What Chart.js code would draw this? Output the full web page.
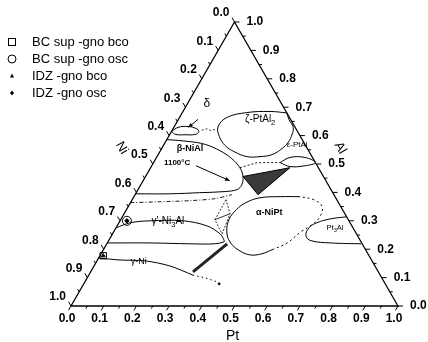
<!DOCTYPE html>
<html><head><meta charset="utf-8">
<script src="https://cdn.jsdelivr.net/npm/chart.js@4"></script>
<style>html,body{margin:0;padding:0;background:#fff}canvas{display:block}</style>
</head><body>
<canvas id="c" width="428" height="342"></canvas>
<script>
// All compositions are [Pt, Al] mole fractions (Ni = 1 - Pt - Al)
const frame = [[0,0],[1,0],[0,1],[0,0]];
const deltaPhase = [[0.000,0.614],[0.013,0.629],[0.042,0.632],[0.070,0.625],[0.084,0.614],[0.077,0.604],[0.047,0.603],[0.019,0.604],[0.000,0.614]];
const deltaTail = [[0.090,0.619],[0.105,0.624],[0.118,0.618],[0.132,0.622]];
const betaPhase = [[0,0.586],[0.074,0.579],[0.126,0.569],[0.182,0.547],[0.232,0.519],[0.273,0.487],[0.298,0.456],[0.309,0.427],[0.303,0.410],[0.270,0.403],[0.194,0.399],[0.105,0.395],[0,0.395]];
const orderLine = [[0,0.364],[0.088,0.367],[0.179,0.371],[0.251,0.378],[0.296,0.392]];
const gammaPrime = [[0,0.275],[0.034,0.293],[0.092,0.300],[0.193,0.300],[0.275,0.282],[0.329,0.254],[0.351,0.233],[0.355,0.226],[0.330,0.219],[0.254,0.219],[0.131,0.222],[0,0.222]];
const gammaNi = [[0,0.169],[0.069,0.162],[0.147,0.159],[0.232,0.141],[0.318,0.109]];
const gammaTail = [[0.318,0.109],[0.361,0.099],[0.404,0.085]];
const looseDots = [[0.414,0.078]];
const tieStrip = [[0.313,0.120],[0.368,0.219]];
const smallTie = [[0.287,0.374],[0.288,0.304],[0.335,0.254],[0.324,0.325],[0.287,0.374]];
const smallTieLine = [[0.288,0.304],[0.324,0.325]];
const threePhase = [[0.298,0.456],[0.426,0.487],[0.376,0.392],[0.298,0.456]];
const threeTop = [[0.273,0.487],[0.317,0.505],[0.387,0.505]];
const lensPhase = [[0.387,0.505],[0.408,0.523],[0.454,0.523],[0.495,0.505],[0.469,0.494],[0.424,0.491],[0.387,0.505]];
const zetaPhase = [[0.320,0.680],[0.266,0.685],[0.197,0.681],[0.145,0.664],[0.134,0.632],[0.155,0.597],[0.189,0.565],[0.226,0.544],[0.275,0.526],[0.315,0.526],[0.348,0.533],[0.368,0.554],[0.376,0.576],[0.374,0.604],[0.365,0.629],[0.338,0.657],[0.320,0.680]];
const alphaSolid = [[0.508,0.385],[0.447,0.385],[0.387,0.381],[0.353,0.364],[0.336,0.339],[0.331,0.304],[0.346,0.261],[0.373,0.226],[0.412,0.198],[0.457,0.180],[0.492,0.184],[0.516,0.198]];
const alphaDashed = [[0.516,0.198],[0.550,0.222],[0.572,0.261],[0.594,0.286],[0.604,0.314],[0.593,0.350],[0.556,0.374],[0.508,0.385]];
const pt3Al = [[0.686,0.314],[0.641,0.307],[0.605,0.293],[0.590,0.275],[0.595,0.247],[0.619,0.230],[0.684,0.222],[0.778,0.219]];
// measured specimens
const bcBco = [[0.010,0.177]];
const bcOsc = [[0.021,0.300]];
const idzBco = [[0.010,0.177]];
const idzOsc = [[0.021,0.300]];
const legendLabels = ['BC sup -gno bco','BC sup -gno osc','IDZ -gno bco','IDZ -gno osc'];
// axis ticks
const majorTicks = [0,0.1,0.2,0.3,0.4,0.5,0.6,0.7,0.8,0.9,1.0];
const tickLabels = ['0.0','0.1','0.2','0.3','0.4','0.5','0.6','0.7','0.8','0.9','1.0'];
const minorTicks = [0.05,0.15,0.25,0.35,0.45,0.55,0.65,0.75,0.85,0.95];
// phase labels: [text, Pt, Al]
const phaseLabels = [
  ['δ',0.059,0.713,'12px Arial'],
  ['β-NiAl',0.087,0.554,'bold 9px Arial'],
  ['1100°C',0.072,0.505,'bold 8px Arial'],
  ['α-NiPt',0.442,0.328,'bold 9px Arial'],
  ['ε-PtAl',0.407,0.569,'8px Arial'],
  ['γ-Ni',0.130,0.155,'9px Arial']
];
const arrows = [[[0.060,0.657],[0.044,0.629]],[[0.135,0.494],[0.265,0.441]]];

const H = Math.sqrt(3)/2;
const toXY = arr => arr.map(p => ({x: p[0] + p[1]/2, y: p[1]*H}));

function line(data, extra){
  return Object.assign({type:'scatter', data: toXY(data), showLine:true, borderColor:'#000', borderWidth:1,
    pointRadius:0, fill:false, tension:0, clip:false}, extra||{});
}
const datasets = [
  line(frame,{borderWidth:1.3}),
  line(deltaPhase,{tension:0.4}),
  line(deltaTail,{borderDash:[2,2],borderWidth:0.8}),
  line(betaPhase,{tension:0.35}),
  line(orderLine,{borderDash:[4,2,1,2],borderWidth:0.9,tension:0.3}),
  line(gammaPrime,{tension:0.35}),
  line(gammaNi,{tension:0.3}),
  line(gammaTail,{borderDash:[1.5,3],borderWidth:1}),
  line(looseDots,{showLine:false,pointRadius:1,backgroundColor:'#000'}),
  line(tieStrip,{borderWidth:3,borderColor:'#222'}),
  line(smallTie,{borderDash:[2,1.5],borderWidth:0.8}),
  line(smallTieLine,{borderWidth:0.8}),
  line(threePhase,{fill:'shape',backgroundColor:'#3a3a3a',borderWidth:1}),
  line(threeTop,{borderDash:[2,2],borderWidth:0.9}),
  line(lensPhase,{tension:0.4}),
  line(zetaPhase,{tension:0.4}),
  line(alphaSolid,{tension:0.4}),
  line(alphaDashed,{tension:0.4,borderDash:[2,3]}),
  line(pt3Al,{tension:0.4}),
  line(bcBco,{label:legendLabels[0],showLine:false,pointStyle:'rect',pointRadius:4.5,borderWidth:1,backgroundColor:'rgba(0,0,0,0)'}),
  line(bcOsc,{label:legendLabels[1],showLine:false,pointStyle:'circle',pointRadius:4.5,borderWidth:1,backgroundColor:'rgba(0,0,0,0)'}),
  line(idzBco,{label:legendLabels[2],showLine:false,pointStyle:'triangle',pointRadius:2.2,backgroundColor:'#000'}),
  line(idzOsc,{label:legendLabels[3],showLine:false,pointStyle:'rectRot',pointRadius:2.2,backgroundColor:'#000'})
];

const ternaryDecor = {
  id:'ternaryDecor',
  afterDatasetsDraw(chart){
    const ctx = chart.ctx, xs = chart.scales.x, ys = chart.scales.y;
    const P = (pt, al) => [xs.getPixelForValue(pt + al/2), ys.getPixelForValue(al*H)];
    ctx.save();
    ctx.strokeStyle = '#000'; ctx.fillStyle = '#000'; ctx.lineWidth = 1;
    const tick = (p, dx, dy, L) => { ctx.beginPath(); ctx.moveTo(p[0],p[1]); ctx.lineTo(p[0]+dx*L,p[1]+dy*L); ctx.stroke(); };
    const all = majorTicks.map(v=>[v,5]).concat(minorTicks.map(v=>[v,3]));
    all.forEach(([v,L]) => {
      tick(P(v,0), -0.5, H, L);        // Pt axis
      tick(P(0,1-v), -0.5, -H, L);     // Ni axis
      tick(P(1-v,v), 1, 0, L);         // Al axis
    });
    ctx.font = 'bold 12px Arial, "Liberation Sans", sans-serif';
    ctx.textBaseline = 'middle';
    majorTicks.forEach((v,i) => {
      let p = P(v,0); ctx.textAlign='center'; ctx.fillText(tickLabels[i], p[0]-4, p[1]+13);
      p = P(0,1-v); ctx.textAlign='right'; ctx.fillText(tickLabels[i], p[0]-5, p[1]-9);
      p = P(1-v,v); ctx.textAlign='left'; ctx.fillText(tickLabels[i], p[0]+12, p[1]);
    });
    // axis titles
    ctx.font = '14px Arial, "Liberation Sans", sans-serif';
    ctx.textAlign='center';
    let p = P(0.5,0); ctx.fillText('Pt', p[0]-2, p[1]+30);
    ctx.font = '13px Arial, "Liberation Sans", sans-serif';
    p = P(0,0.5);
    ctx.save(); ctx.translate(p[0]-31, p[1]-16); ctx.rotate(Math.PI/3); ctx.fillText('Ni',0,0); ctx.restore();
    p = P(0.5,0.5);
    ctx.save(); ctx.translate(p[0]+24, p[1]-16); ctx.rotate(Math.PI/3); ctx.fillText('Al',0,0); ctx.restore();
    // phase labels
    phaseLabels.forEach(([t,pt,al,f]) => { ctx.font = f + ', "Liberation Sans", sans-serif'; const q=P(pt,al); ctx.fillText(t,q[0],q[1]); });
    // labels with subscripts
    const sub = (parts, pt, al, size) => {
      const q = P(pt,al);
      let w = 0;
      parts.forEach(([s,isSub]) => { ctx.font = (isSub? (size*0.75):size)+'px Arial, "Liberation Sans", sans-serif'; w += ctx.measureText(s).width; });
      let x = q[0]-w/2; ctx.textAlign='left';
      parts.forEach(([s,isSub]) => { ctx.font = (isSub? (size*0.75):size)+'px Arial, "Liberation Sans", sans-serif'; ctx.fillText(s,x,q[1]+(isSub?size*0.35:0)); x += ctx.measureText(s).width; });
      ctx.textAlign='center';
    };
    sub([['ζ-PtAl',false],['2',true]],0.250,0.657,10);
    sub([["γ'-Ni",false],['3',true],['Al',false]],0.148,0.297,10);
    sub([['Pt',false],['3',true],['Al',false]],0.670,0.275,7.5);
    // arrows
    arrows.forEach(([a,b]) => {
      const s=P(a[0],a[1]), e=P(b[0],b[1]);
      ctx.beginPath(); ctx.moveTo(s[0],s[1]); ctx.lineTo(e[0],e[1]); ctx.stroke();
      const ang=Math.atan2(e[1]-s[1],e[0]-s[0]);
      ctx.beginPath(); ctx.moveTo(e[0],e[1]);
      ctx.lineTo(e[0]-5*Math.cos(ang-0.4),e[1]-5*Math.sin(ang-0.4));
      ctx.lineTo(e[0]-5*Math.cos(ang+0.4),e[1]-5*Math.sin(ang+0.4));
      ctx.closePath(); ctx.fill();
    });
    // legend (from the specimen datasets)
    const specimen = chart.data.datasets.filter(d => d.label);
    ctx.font = '13px Arial, "Liberation Sans", sans-serif';
    ctx.textAlign='left';
    specimen.forEach((d,i) => {
      const y = 42 + i*17, x = 12;
      ctx.beginPath(); ctx.lineWidth = 1;
      if (d.pointStyle==='rect'){ ctx.strokeRect(x-3.5,y-3.5,7,7); }
      else if (d.pointStyle==='circle'){ ctx.arc(x,y,4,0,2*Math.PI); ctx.stroke(); }
      else if (d.pointStyle==='triangle'){ ctx.moveTo(x,y-2.5); ctx.lineTo(x+2,y+1.5); ctx.lineTo(x-2,y+1.5); ctx.closePath(); ctx.fill(); }
      else { ctx.moveTo(x,y-2.5); ctx.lineTo(x+2,y); ctx.lineTo(x,y+2.5); ctx.lineTo(x-2,y); ctx.closePath(); ctx.fill(); }
      ctx.fillText(d.label, 32, y+0.5);
    });
    ctx.restore();
  }
};

new Chart(document.getElementById('c'), {
  type:'scatter',
  data:{datasets},
  options:{
    responsive:false, animation:false, devicePixelRatio:1,
    layout:{padding:{left:71,right:30,top:22,bottom:36}},
    scales:{
      x:{type:'linear',min:0,max:1,display:false},
      y:{type:'linear',min:0,max:H,display:false}
    },
    plugins:{legend:{display:false},tooltip:{enabled:false}}
  },
  plugins:[ternaryDecor]
});
</script>
</body></html>
